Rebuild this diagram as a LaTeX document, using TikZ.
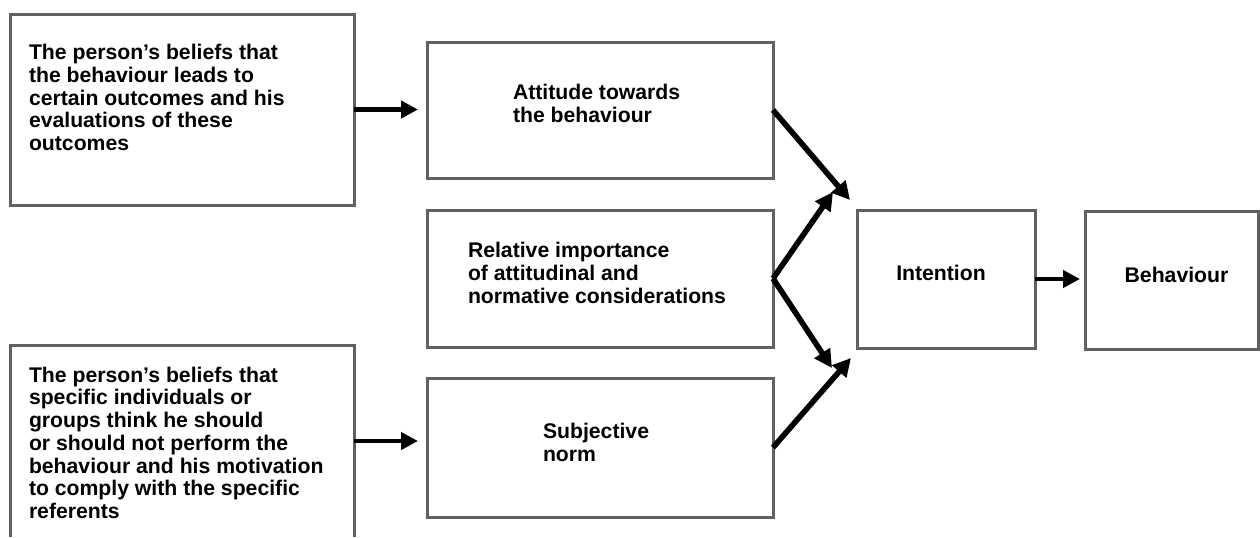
\documentclass[tikz,border=0pt]{standalone}
\usepackage{fontspec}
\newfontfamily\labelfont{Liberation Sans}
\usetikzlibrary{arrows.meta,fit}

\tikzset{
  box/.style={draw=black!62, line width=1.5pt, inner sep=0pt, outer sep=0pt},
  openbox/.style={inner sep=0pt, outer sep=0pt},
  boxline/.style={draw=black!62, line width=1.5pt},
  txt/.style={inner sep=0pt, outer sep=0pt, align=left,
    font=\labelfont\bfseries\fontsize{10.6pt}{11.35pt}\selectfont},
  arr/.style={line width=2.4pt, -{Triangle[length=8.5pt,width=8.5pt]}},
  darr/.style={line width=2.8pt, -{Triangle[length=9pt,width=9pt]}},
}

\begin{document}
\begin{tikzpicture}[x=0.5pt, y=-0.5pt]
\useasboundingbox (0,0) rectangle (1260,537);

% boxes
\node[box, fit={(10,14) (354,205)}] (tl) {};
\node[openbox, fit={(10,345) (354,537)}] (bl) {};
\draw[boxline] (bl.south west) -- (bl.north west) -- (bl.north east) -- (bl.south east);
\node[box, fit={(427,42) (773,178)}] (att) {};
\node[box, fit={(427,210) (773,347)}] (rel) {};
\node[box, fit={(427,378) (773,517)}] (sub) {};
\node[box, fit={(857,210) (1035,348)}] (int) {};
\node[box, fit={(1085,211) (1258,349)}] (beh) {};

% texts
\node[txt, anchor=west] (tlT) at (29,97.5) {The person’s beliefs that\\the behaviour leads to\\certain outcomes and his\\evaluations of these\\outcomes};
\node[txt, anchor=west] (blT) at (29,442.8) {The person’s beliefs that\\specific individuals or\\groups think he should\\or should not perform the\\behaviour and his motivation\\to comply with the specific\\referents};
\node[txt, anchor=west] (attT) at (513,103.5) {Attitude towards\\the behaviour};
\node[txt, anchor=west] (relT) at (468,272.8) {Relative importance\\of attitudinal and\\normative considerations};
\node[txt, anchor=west] (subT) at (543,442.5) {Subjective\\norm};
\node[txt] (intT) at (941,273.3) {Intention};
\node[txt] (behT) at (1176.5,274.5) {Behaviour};

% arrow tips next to the intention box
\coordinate (attTip) at (850,200);
\coordinate (relUpTip) at (833,192);
\coordinate (relDownTip) at (832,368);
\coordinate (subTip) at (851,358);

% connectors
\draw[arr, shorten >=4.5pt] (tl.east) -- (tl.east -| att.west);
\draw[arr, shorten >=4.5pt] (bl.east) -- (bl.east -| sub.west);
\draw[arr, shorten >=2.5pt] (int.east) -- (int.east -| beh.west);
\draw[darr] (att.east) -- (attTip);
\draw[darr] (rel.east) -- (relUpTip);
\draw[darr] (rel.east) -- (relDownTip);
\draw[darr] (sub.east) -- (subTip);
\end{tikzpicture}
\end{document}
